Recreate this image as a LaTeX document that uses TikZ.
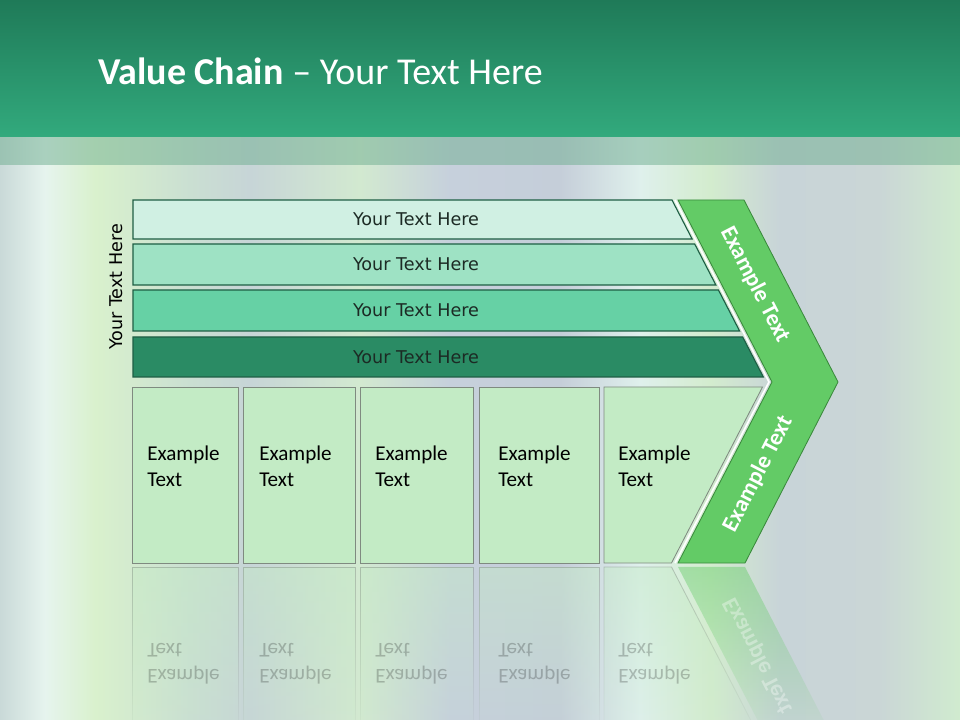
\documentclass[tikz,border=0pt]{standalone}
\usepackage{fontspec}
\setmainfont{Carlito}
\newfontfamily\tahoma{DejaVu Sans}
\usepackage{tikz}
\usetikzlibrary{positioning, fadings}
\definecolor{headTop}{HTML}{1F7A58}
\definecolor{headBottom}{HTML}{32AA7D}
\definecolor{bandTint}{HTML}{6FAE90}
\definecolor{barA}{HTML}{D0F0E3}
\definecolor{barB}{HTML}{9EE2C4}
\definecolor{barC}{HTML}{66D1A5}
\definecolor{barD}{HTML}{2A8B64}
\definecolor{barLine}{HTML}{1E5E44}
\definecolor{barText}{HTML}{1C2A24}
\definecolor{cellFill}{HTML}{C3EBC5}
\definecolor{cellLine}{HTML}{7F8A80}
\definecolor{chevronFill}{HTML}{63CB66}
\definecolor{chevronLine}{HTML}{3A8A3C}
\definecolor{bgA}{HTML}{C9D9D8}
\definecolor{bgB}{HTML}{E6F4EE}
\definecolor{bgC}{HTML}{D9F1CD}
\definecolor{bgD}{HTML}{CADFD2}
\definecolor{bgE}{HTML}{C7D5D7}
\definecolor{bgF}{HTML}{D2E9D0}
\definecolor{bgG}{HTML}{C6D0DC}
\definecolor{bgH}{HTML}{C5CED9}
\definecolor{bgI}{HTML}{DFF0EC}
\definecolor{bgJ}{HTML}{D3ECCE}
\definecolor{bgK}{HTML}{C8D4D8}
\definecolor{bgL}{HTML}{CAD6D6}
\definecolor{bgM}{HTML}{D0EBCF}

\tikzset{
  barshape/.style={draw=barLine, line width=0.8pt},
  bartext/.style={font=\tahoma\fontsize{12.5}{14}\selectfont, text=barText},
  cell/.style={draw=cellLine, fill=cellFill, line width=0.6pt},
  celltext/.style={font=\fontsize{15}{18.5}\selectfont, align=left, anchor=west, inner sep=0pt, text=black},
  chevron/.style={draw=chevronLine, fill=chevronFill, line width=0.6pt},
  chevrontext/.style={font=\bfseries\fontsize{16.5}{18}\selectfont, text=white},
  mirror/.style={path fading=south, opacity=0.45}
}

\begin{document}
\begin{tikzpicture}[x=0.025cm, y=-0.025cm]
\useasboundingbox (0,0) rectangle (960,720);

% backdrop
\foreach \xa/\xb/\ca/\cb in {0/45/bgA/bgB, 45/95/bgB/bgC, 95/190/bgC/bgD, 190/250/bgD/bgE,
  250/360/bgE/bgF, 360/450/bgF/bgG, 450/560/bgG/bgH, 560/640/bgH/bgI, 640/710/bgI/bgJ,
  710/780/bgJ/bgK, 780/880/bgK/bgL, 880/960/bgL/bgM}
  \fill[left color=\ca, right color=\cb] (\xa,137) rectangle (\xb,720);
\fill[top color=headTop, bottom color=headBottom] (0,0) rectangle (960,137);
\fill[bandTint, opacity=0.5] (0,137) rectangle (960,165);

\node[anchor=base west, text=white, inner sep=0pt, font=\fontsize{27}{30}\selectfont]
  (title) at (98,85) {\textbf{Value Chain} -- Your Text Here};

% bars
\foreach \yt/\yb/\col [count=\i] in {200/239/barA, 244/285/barB, 290/331/barC, 337/377/barD} {
  \draw[barshape, fill=\col] (133,\yt) -- ({672+0.516*(\yt-200)},\yt)
    -- ({672+0.516*(\yb-200)},\yb) -- (133,\yb) -- cycle;
  \node[bartext] (bar\i) at (416,{(\yt+\yb)/2}) {Your Text Here};
}
\node[bartext, text=black, rotate=90] (side) at (116,287) {Your Text Here};

% cells
\foreach \xa/\xb/\pad [count=\i] in {132/238/15, 243/355/16, 360/473/15, 479/599/19} {
  \draw[cell] (\xa,387) rectangle (\xb,563);
  \node[celltext] (cell\i) at (\xa+\pad,466) {Example\\Text};
  \draw[cell, mirror] (\xa,567) rectangle (\xb,743);
  \node[celltext, yscale=-1, opacity=0.22] (echo\i) at (\xa+\pad,664) {Example\\Text};
}
\draw[cell] (604,387) -- (762.5,387) -- (671.5,563) -- (604,563) -- cycle;
\node[celltext] (cell5) at (618,466) {Example\\Text};
\draw[cell, mirror] (604,567) -- (671.5,567) -- (762.5,743) -- (604,743) -- cycle;
\node[celltext, yscale=-1, opacity=0.22] (echo5) at (618,664) {Example\\Text};

% chevron
\draw[white, line width=1.2pt] (675,200) -- (769,382) -- (675,563);
\draw[chevron] (678,200) -- (744,200) -- (838,382) -- (745,563) -- (678,563) -- (772,382) -- cycle;
\node[chevrontext, rotate=-62.7] (upper) at (755,285) {Example Text};
\node[chevrontext, rotate=62.7] (lower) at (758,474) {Example Text};
\fill[chevronFill, mirror] (678,567) -- (745,567) -- (838,748) -- (772,748) -- cycle;
\node[chevrontext, rotate=-62.7, yscale=-1, opacity=0.35] (echo6) at (758,656) {Example Text};
\end{tikzpicture}
\end{document}
